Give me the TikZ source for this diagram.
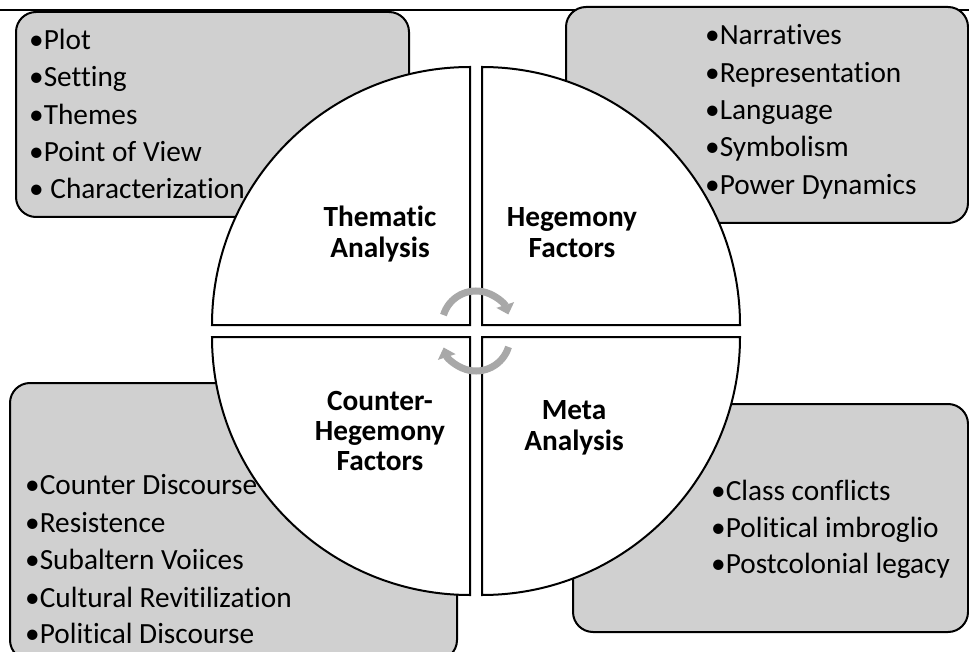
\documentclass[tikz,border=0pt]{standalone}
\usepackage{fontspec}
\setmainfont{Carlito}[Ligatures=NoCommon]
\usetikzlibrary{arrows.meta}
\definecolor{boxgrey}{RGB}{208,208,208}
\definecolor{arrowgrey}{RGB}{168,168,168}
\begin{document}
\begin{tikzpicture}[x=1pt,y=-1pt,
  infobox/.style={draw=black, line width=2pt, fill=boxgrey, rounded corners=20pt},
  quad/.style={draw=black, line width=2pt, fill=white},
  item/.style={anchor=base west, inner sep=0pt, font=\fontsize{29.3}{35}\selectfont},
  quadlabel/.style={anchor=base, inner sep=0pt, font=\fontsize{29.3}{31}\selectfont\bfseries},
  cyc/.style={draw=arrowgrey, line width=7pt, -{Triangle[length=10pt,width=18pt]}}
]
\useasboundingbox (0,0) rectangle (969,652);
\clip (0,0) rectangle (969,652);

% top rule
\coordinate (ruleL) at (0,10);
\coordinate (ruleR) at (969,10);
\draw[line width=2.5pt] (ruleL) -- (ruleR);

% corner boxes
\draw[infobox] (16,12) rectangle (409,217);
\draw[infobox] (566,7) rectangle (968,223);
\draw[infobox] (10,383) rectangle (457,660);
\draw[infobox] (573,404) rectangle (968,632);

% top-left list
\node[item] (tl1) at (29,50)    {•Plot};
\node[item] (tl2) at (29,87)    {•Setting};
\node[item] (tl3) at (29,124.5) {•Themes};
\node[item] (tl4) at (29,161.5) {•Point of View};
\node[item] (tl5) at (29,198.5) {• Characterization};

% top-right list
\node[item] (tr1) at (705,45)    {•Narratives};
\node[item] (tr2) at (705,82.5)  {•Representation};
\node[item] (tr3) at (705,120)   {•Language};
\node[item] (tr4) at (705,157)   {•Symbolism};
\node[item] (tr5) at (705,195)   {•Power Dynamics};

% bottom-left list
\node[item] (bl1) at (25,494) {•Counter Discourse};
\node[item] (bl2) at (25,532) {•Resistence};
\node[item] (bl3) at (25,569) {•Subaltern Voiices};
\node[item] (bl4) at (25,607) {•Cultural Revitilization};
\node[item] (bl5) at (25,643) {•Political Discourse};

% bottom-right list
\node[item] (br1) at (711,500) {•Class conflicts};
\node[item] (br2) at (711,537) {•Political imbroglio};
\node[item] (br3) at (711,573) {•Postcolonial legacy};

% quadrants
\draw[quad] (470,325) -- (212,325) arc[start angle=180, end angle=270, radius=258] -- cycle;
\draw[quad] (482,325) -- (482,67) arc[start angle=270, end angle=360, radius=258] -- cycle;
\draw[quad] (482,337) -- (740,337) arc[start angle=0, end angle=90, radius=258] -- cycle;
\draw[quad] (470,337) -- (470,595) arc[start angle=90, end angle=180, radius=258] -- cycle;

% quadrant labels
\node[quadlabel] (q1a) at (380,227) {Thematic};
\node[quadlabel] (q1b) at (380,258) {Analysis};
\node[quadlabel] (q2a) at (572,227) {Hegemony};
\node[quadlabel] (q2b) at (572,258) {Factors};
\node[quadlabel] (q3a) at (380,410) {Counter-};
\node[quadlabel] (q3b) at (380,440) {Hegemony};
\node[quadlabel] (q3c) at (380,470) {Factors};
\node[quadlabel] (q4a) at (574,419) {Meta};
\node[quadlabel] (q4b) at (574,450) {Analysis};

% cycle arrows
\coordinate (cu) at (476,325);
\coordinate (cl) at (476,337);
\draw[cyc] ([shift={(-163:34)}]cu) arc[start angle=-163, end angle=-18, radius=34];
\draw[cyc] ([shift={(17:34)}]cl) arc[start angle=17, end angle=162, radius=34];
\end{tikzpicture}
\end{document}
